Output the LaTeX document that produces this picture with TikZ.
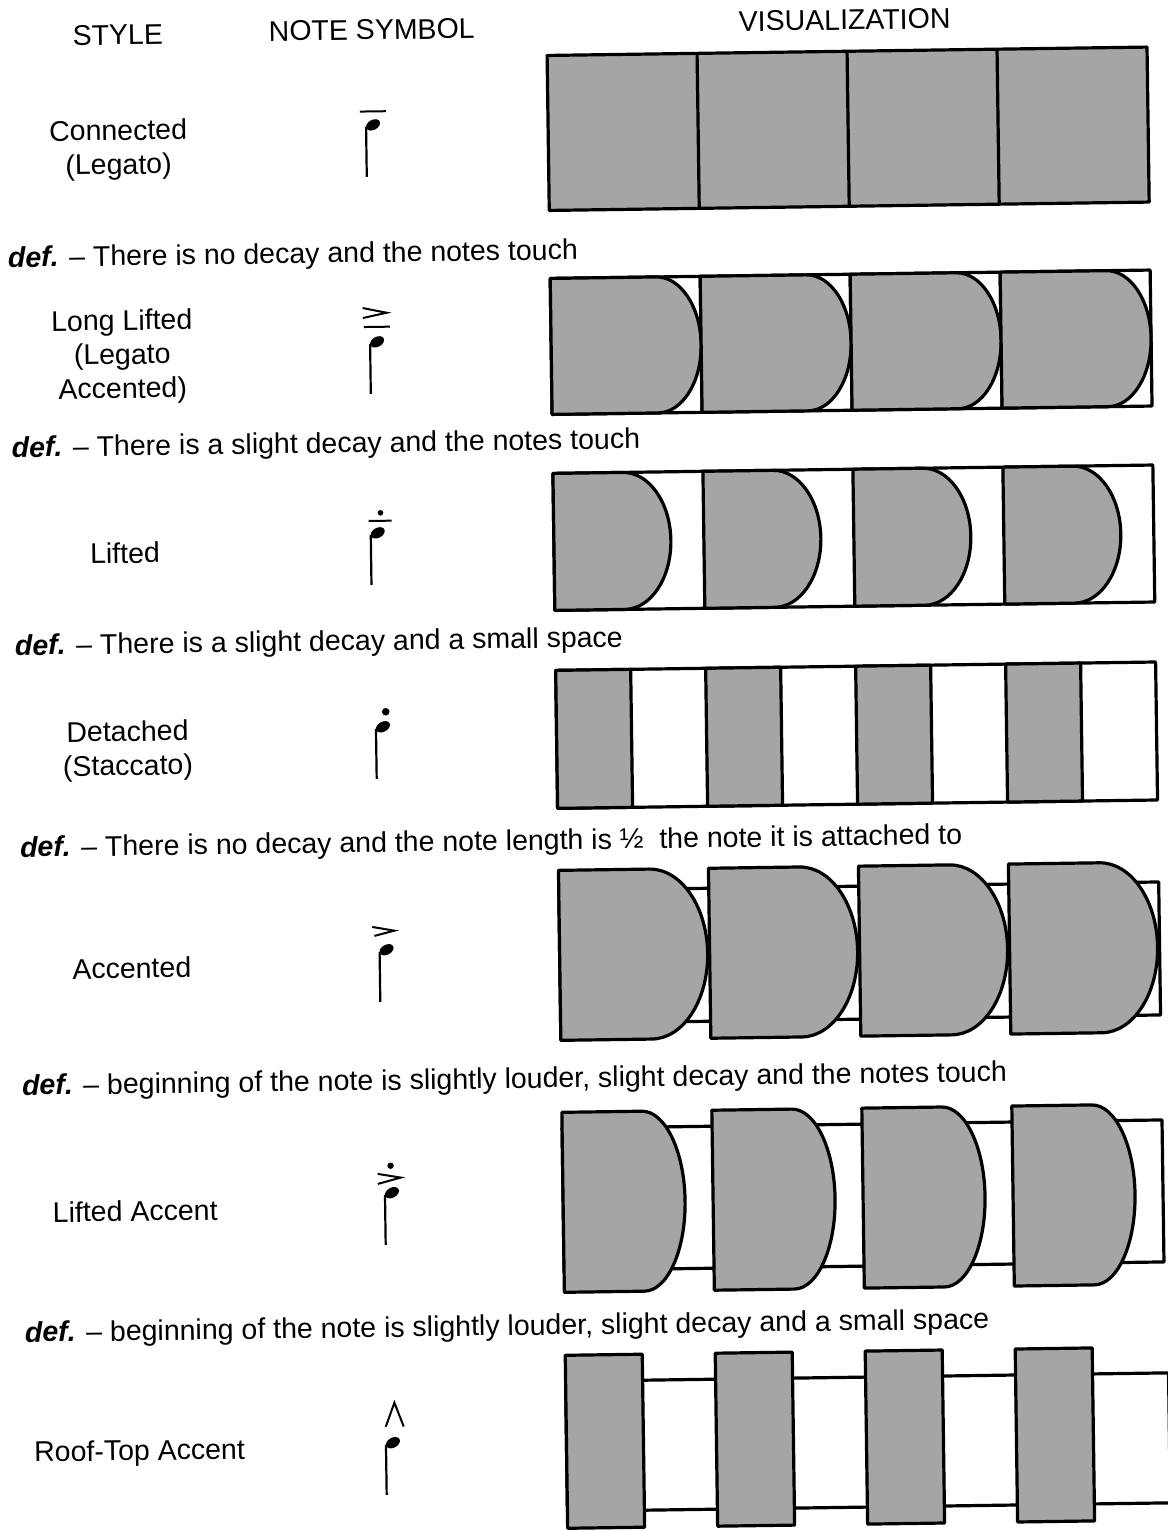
\documentclass[tikz,border=0pt]{standalone}
\usepackage{fontspec}
\setmainfont{Liberation Sans}
\definecolor{scan}{RGB}{165,165,165}
\begin{document}
\begin{tikzpicture}[x=1pt,y=-1pt,
  lbl/.style={font=\fontsize{28.5}{34}\selectfont, align=center, inner sep=0pt},
  deftext/.style={font=\fontsize{28.5}{34}\selectfont, anchor=west, inner sep=0pt},
  box/.style={draw=black, line width=3.2pt, line join=round},
  shade/.style={fill=scan, draw=black, line width=3.2pt, line join=round},
  sym/.style={line width=2pt},
  notehead/.pic={
    \fill[rotate=28] (0,0) ellipse [x radius=7.5, y radius=5];
    \draw[line width=2.2pt] (-7,2) -- (-7,52);
  }]
\useasboundingbox (0,0) rectangle (1167,1531);
\begin{scope}[rotate around={0.8:(583,765)}, transform shape]
% headers
\node[lbl] (hStyle) at (128,28.5) {STYLE};
\node[lbl] (hNote) at (382,27) {NOTE SYMBOL};
\node[lbl] (hVis) at (855,23.7) {VISUALIZATION};
% style labels
\node[lbl] (s1) at (127,143.5) {Connected\\(Legato)};
\node[lbl] (s2) at (128,350.5) {Long Lifted\\(Legato\\Accented)};
\node[lbl] (s3) at (128,546.6) {Lifted};
\node[lbl] (s4) at (128,744.6) {Detached\\(Staccato)};
\node[lbl] (s5) at (129,961.7) {Accented};
\node[lbl] (s6) at (129,1204.7) {Lifted Accent};
\node[lbl] (s7) at (130,1446.8) {Roof-Top Accent};
% definitions
\node[deftext] (d1) at (15,252) {\textbf{\textit{def.}} -- There is no decay and the notes touch};
\node[deftext] (d2) at (16,442) {\textbf{\textit{def.}} -- There is a slight decay and the notes touch};
\node[deftext] (d3) at (16.6,640) {\textbf{\textit{def.}} -- There is a slight decay and a small space};
\node[deftext] (d4) at (18.8,842) {\textbf{\textit{def.}} -- There is no decay and the note length is ½\ \ the note it is attached to};
\node[deftext] (d5) at (17.5,1080) {\textbf{\textit{def.}} -- beginning of the note is slightly louder, slight decay and the notes touch};
\node[deftext] (d6) at (17,1327) {\textbf{\textit{def.}} -- beginning of the note is slightly louder, slight decay and a small space};
% note symbols
\pic at (382,122) {notehead};
\draw[sym] (369,108.5) -- (395,108.5);
\pic at (383,339) {notehead};
\draw[sym] (369,305) -- (393,310) -- (369,315);
\draw[sym] (370,324) -- (396,324);
\pic at (381,530) {notehead};
\fill (384,510) circle[radius=2.8];
\draw[sym] (372,518) -- (395,518);
\pic at (383.5,724) {notehead};
\fill (386.5,709) circle[radius=3.8];
\pic at (384,947) {notehead};
\draw[sym] (370,924) -- (392,928) -- (372,933);
\pic at (386,1190) {notehead};
\fill (385,1163) circle[radius=3.2];
\draw[sym] (372,1171) -- (395,1175) -- (372,1181);
\pic at (383.5,1440) {notehead};
\draw[sym] (376.5,1424) -- (385.5,1400) -- (394.5,1424);
% row 1: connected
\draw[shade] (557,55) rectangle (1157,210);
\foreach \x in {707,857,1007} \draw[box] (\x,55) -- (\x,210);
% row 2: long lifted
\draw[box] (557,278) rectangle (1157,414);
\foreach \x in {707,857,1007} \draw[box] (\x,278) -- (\x,414);
\foreach \L in {557,707,857,1007}
  \draw[shade] (\L,278) -- ({\L+106},278) arc[start angle=-90,end angle=90,x radius=44,y radius=68] -- (\L,414) -- cycle;
% row 3: lifted
\draw[box] (557,473) rectangle (1157,610);
\foreach \L in {557,707,857,1007}
  \draw[shade] (\L,473) -- ({\L+70},473) arc[start angle=-90,end angle=90,x radius=47,y radius=68.5] -- (\L,610) -- cycle;
% row 4: detached
\draw[box] (557,670) rectangle (1157,808);
\foreach \L in {557,707,857,1007}
  \draw[shade] (\L,670) rectangle ({\L+75},808);
% row 5: accented
\draw[box] (557,890) rectangle (1157,1023);
\foreach \L in {557,707,857,1007}
  \draw[shade] (\L,870) -- ({\L+91},870) arc[start angle=-90,end angle=90,x radius=57,y radius=85] -- (\L,1040) -- cycle;
% row 6: lifted accent
\draw[box] (557,1128) rectangle (1157,1270);
\foreach \L in {557,707,857,1007}
  \draw[shade] (\L,1112) -- ({\L+80},1112) arc[start angle=-90,end angle=90,x radius=42,y radius=90] -- (\L,1292) -- cycle;
% row 7: roof-top accent
\draw[box] (557,1381) rectangle (1160,1511);
\foreach \L in {557,707,857,1007}
  \draw[shade] (\L,1355) rectangle ({\L+77},1528);
\end{scope}
\end{tikzpicture}
\end{document}
